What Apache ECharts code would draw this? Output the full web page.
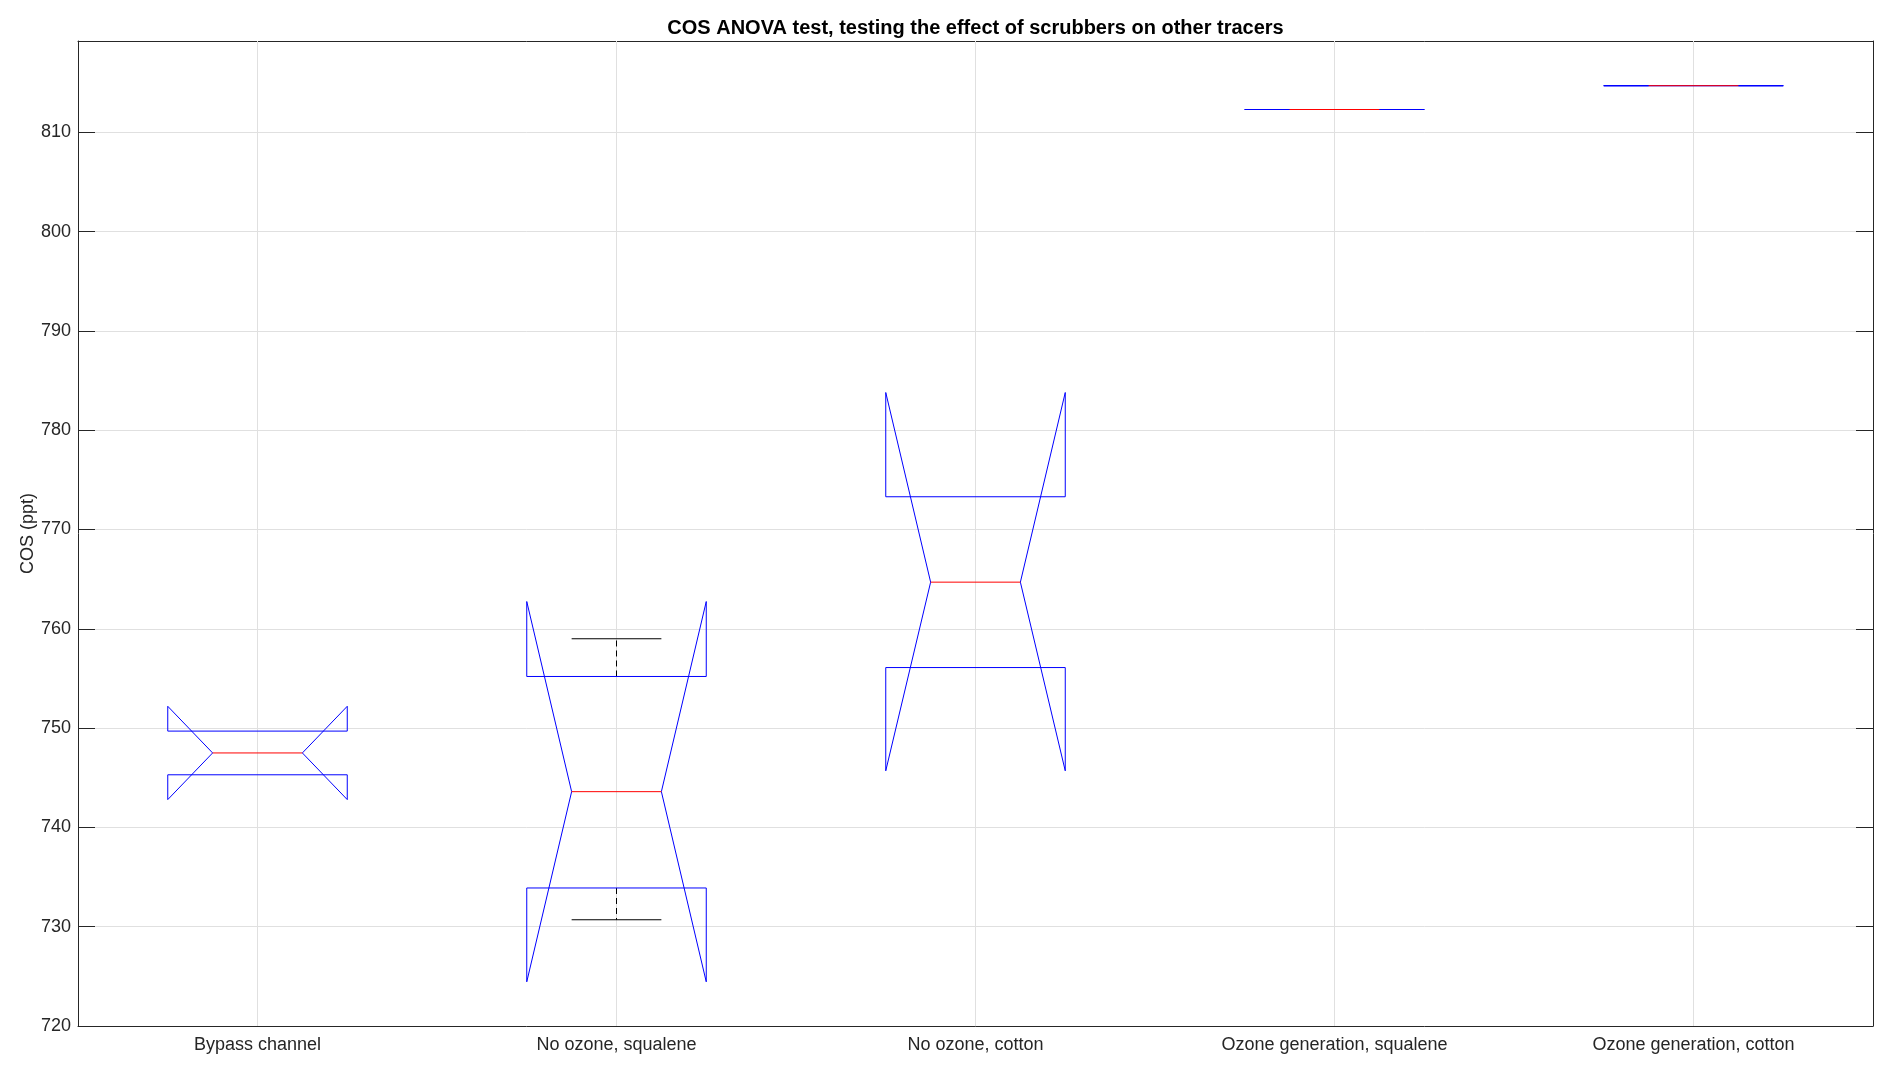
<!DOCTYPE html>
<html>
<head>
<meta charset="utf-8">
<script src="https://cdn.jsdelivr.net/npm/echarts@6/dist/echarts.min.js"></script>
<style>
html,body{margin:0;padding:0;background:#fff;}
#chart{width:1892px;height:1074px;}
</style>
</head>
<body>
<div id="chart"></div>
<script>
// ---- data ----
const categories = ['Bypass channel', 'No ozone, squalene', 'No ozone, cotton', 'Ozone generation, squalene', 'Ozone generation, cotton'];
const medians    = [747.5, 743.6, 764.7, 812.3, 814.7];
const q1Values   = [745.3, 733.9, 756.1, 812.3, 814.7];
const q3Values   = [749.7, 755.2, 773.3, 812.3, 814.7];
const notchLow   = [742.8, 724.45, 745.7, 812.3, 814.7];
const notchHigh  = [752.2, 762.75, 783.8, 812.3, 814.7];
const whiskerLow = [745.3, 730.7, 756.1, 812.3, 814.7];
const whiskerHigh= [749.7, 759.0, 773.3, 812.3, 814.7];
const yMin = 720, yMax = 819.2, yInterval = 10;
const titleText = 'COS ANOVA test, testing the effect of scrubbers on other tracers';
const yLabel = 'COS (ppt)';

const FONT = "'Liberation Sans', Arial, Helvetica, sans-serif";
const AX = '#262626';
const GRID = '#e0e0e0';

const boxData = categories.map((c, i) => [i, notchLow[i], q1Values[i], medians[i], q3Values[i], notchHigh[i], whiskerLow[i], whiskerHigh[i]]);

function renderBox(params, api) {
  const i = api.value(0);
  const nLo = api.value(1), q1 = api.value(2), med = api.value(3), q3 = api.value(4), nHi = api.value(5), wLo = api.value(6), wHi = api.value(7);
  const bw = api.size([1, 0])[0];
  const cx = api.coord([i, med])[0];
  const Y = v => api.coord([i, v])[1];
  const L = cx - bw * 0.25, R = cx + bw * 0.25;
  const nL = cx - bw * 0.125, nR = cx + bw * 0.125;
  const children = [];
  // whiskers (dashed) and caps, only where they extend beyond the box
  if (wHi > q3) {
    children.push({type: 'line', shape: {x1: cx, y1: Y(q3), x2: cx, y2: Y(wHi)}, style: {stroke: '#000', lineWidth: 1, lineDash: [6, 4]}});
    children.push({type: 'line', shape: {x1: nL, y1: Y(wHi), x2: nR, y2: Y(wHi)}, style: {stroke: '#000', lineWidth: 1}});
  }
  if (wLo < q1) {
    children.push({type: 'line', shape: {x1: cx, y1: Y(q1), x2: cx, y2: Y(wLo)}, style: {stroke: '#000', lineWidth: 1, lineDash: [6, 4]}});
    children.push({type: 'line', shape: {x1: nL, y1: Y(wLo), x2: nR, y2: Y(wLo)}, style: {stroke: '#000', lineWidth: 1}});
  }
  // notched box
  const pts = [
    [L, Y(q1)], [L, Y(nLo)], [nL, Y(med)], [L, Y(nHi)], [L, Y(q3)],
    [R, Y(q3)], [R, Y(nHi)], [nR, Y(med)], [R, Y(nLo)], [R, Y(q1)], [L, Y(q1)]
  ];
  children.push({type: 'polyline', shape: {points: pts}, style: {stroke: '#0000ff', lineWidth: 1, fill: null}});
  // median
  children.push({type: 'line', shape: {x1: nL, y1: Y(med), x2: nR, y2: Y(med)}, style: {stroke: '#ff0000', lineWidth: 1}});
  return {type: 'group', children: children};
}

function renderVGrid(params, api) {
  const i = api.value(0);
  const p1 = api.coord([i, yMin]);
  const p2 = api.coord([i, yMax]);
  return {type: 'line', shape: {x1: p1[0], y1: p1[1], x2: p2[0], y2: p2[1]}, style: {stroke: GRID, lineWidth: 1}};
}

const chart = echarts.init(document.getElementById('chart'), null, {renderer: 'canvas'});
const hideOff = v => (Math.abs(v / yInterval - Math.round(v / yInterval)) < 1e-6 ? String(v) : '');

chart.setOption({
  animation: false,
  backgroundColor: '#ffffff',
  title: {
    text: titleText,
    left: 975.5,
    top: 18,
    padding: 0,
    textAlign: 'center',
    textStyle: {fontFamily: FONT, fontSize: 20, fontWeight: 'bold', color: '#000'}
  },
  grid: {left: 78, right: 19, top: 41, bottom: 48, containLabel: false},
  xAxis: [{
    type: 'category',
    data: categories,
    position: 'bottom',
    boundaryGap: true,
    axisLine: {show: true, lineStyle: {color: AX, width: 1}},
    axisTick: {show: true, inside: true, length: 17, alignWithLabel: true, interval: 0, lineStyle: {color: AX}},
    axisLabel: {show: true, interval: 0, margin: 10, fontFamily: FONT, fontSize: 18, color: AX},
    splitLine: {show: false}
  }, {
    type: 'category',
    data: categories,
    position: 'top',
    boundaryGap: true,
    axisLine: {show: true, lineStyle: {color: AX, width: 1}},
    axisTick: {show: true, inside: true, length: 17, alignWithLabel: true, interval: 0, lineStyle: {color: AX}},
    axisLabel: {show: false},
    splitLine: {show: false}
  }],
  yAxis: [{
    type: 'value',
    min: yMin, max: yMax, interval: yInterval,
    position: 'left',
    name: yLabel,
    nameLocation: 'middle',
    nameGap: 41,
    nameMoveOverlap: false,
    nameTextStyle: {fontFamily: FONT, fontSize: 18, color: AX},
    axisLine: {show: true, lineStyle: {color: AX, width: 1}},
    axisTick: {show: true, inside: true, length: 17, lineStyle: {color: AX}},
    axisLabel: {show: true, margin: 7, fontFamily: FONT, fontSize: 18, color: AX, formatter: hideOff},
    splitLine: {show: true, lineStyle: {color: GRID, width: 1}}
  }, {
    type: 'value',
    min: yMin, max: yMax, interval: yInterval,
    position: 'right',
    axisLine: {show: true, lineStyle: {color: AX, width: 1}},
    axisTick: {show: true, inside: true, length: 17, lineStyle: {color: AX}},
    axisLabel: {show: false},
    splitLine: {show: false}
  }],
  series: [{
    type: 'custom',
    name: 'vgrid',
    xAxisIndex: 0, yAxisIndex: 0,
    z: 1,
    silent: true,
    renderItem: renderVGrid,
    data: categories.map((c, i) => [i, yMin]),
    encode: {x: 0, y: 1}
  }, {
    type: 'custom',
    name: 'boxes',
    xAxisIndex: 0, yAxisIndex: 0,
    z: 3,
    renderItem: renderBox,
    data: boxData,
    encode: {x: 0, y: [1, 2, 3, 4, 5, 6, 7]}
  }]
});
</script>
</body>
</html>
